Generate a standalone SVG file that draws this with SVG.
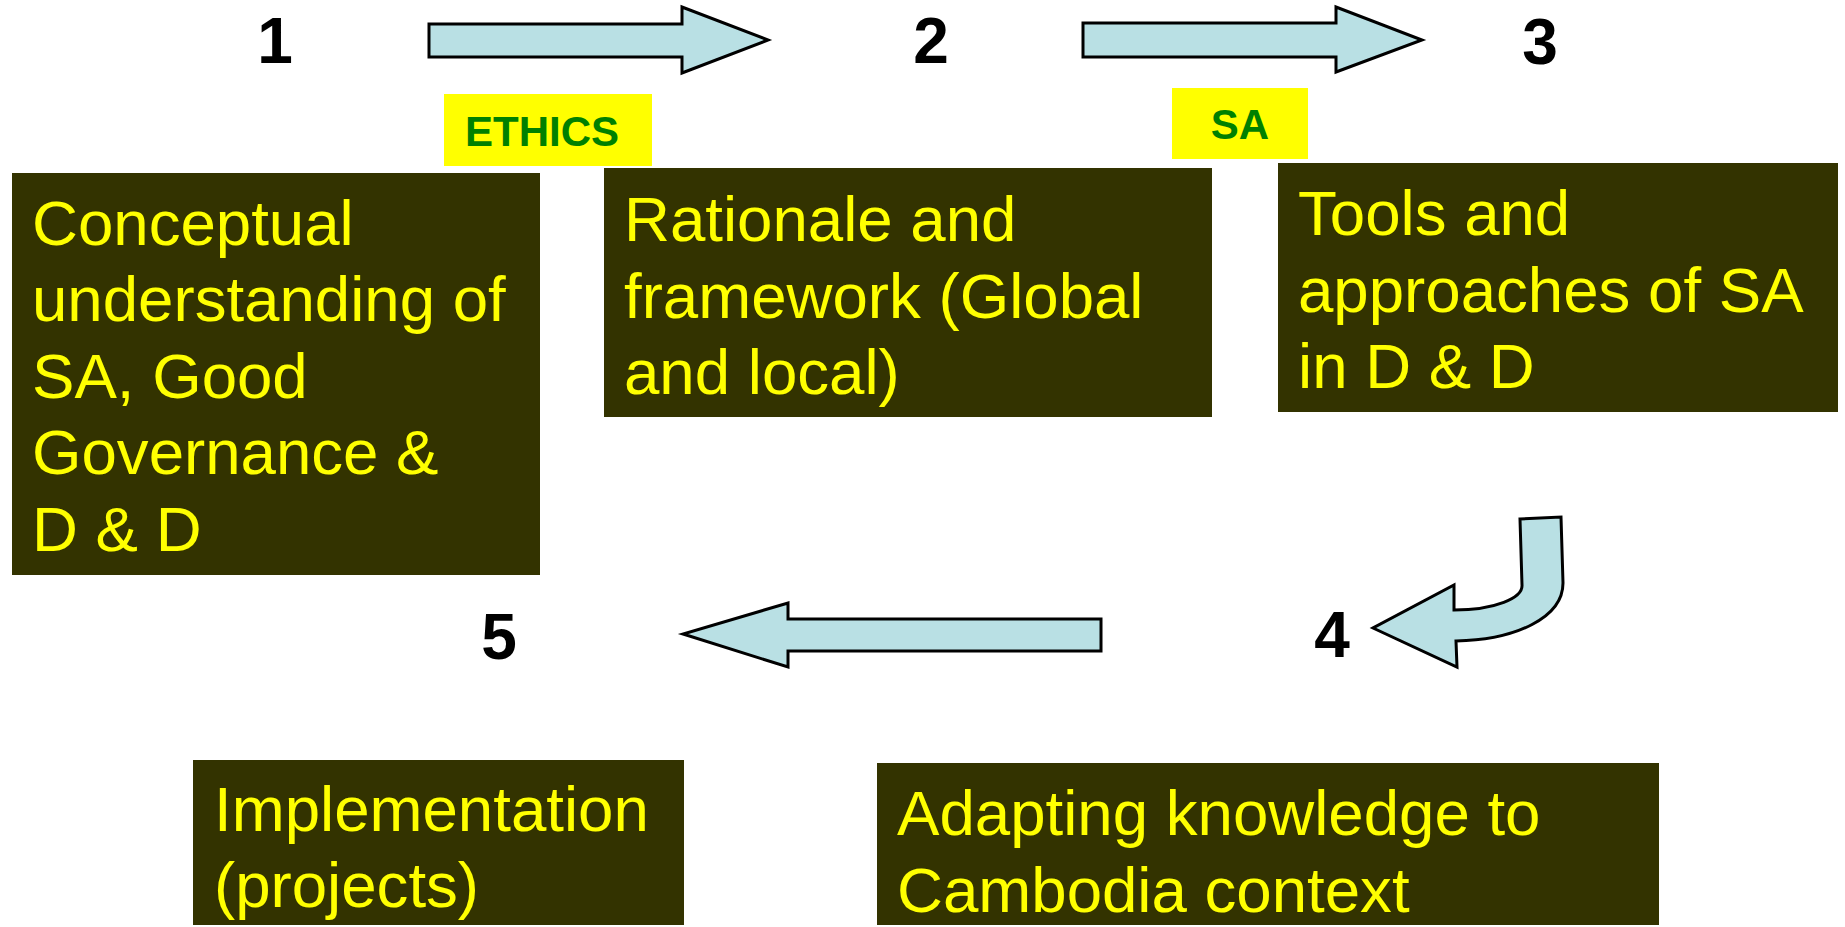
<svg xmlns="http://www.w3.org/2000/svg" width="1845" height="927" viewBox="0 0 1845 927">
<style>
.box{fill:#333300}
.bt{font-family:"Liberation Sans",Arial,sans-serif;font-size:63.6px;fill:#FFFF00}
.num{font-family:"Liberation Sans",Arial,sans-serif;font-size:64px;font-weight:bold;fill:#000;text-anchor:middle}
.tag{fill:#FFFF00}
.tt{font-family:"Liberation Sans",Arial,sans-serif;font-size:42px;font-weight:bold;fill:#008000}
.arr{fill:#B9E0E4;stroke:#000;stroke-width:3;stroke-linejoin:miter}
</style>
<rect width="1845" height="927" fill="#fff"/>
<g id="connectors">
<path class="arr" d="M429,24 L682,24 L682,7 L768,40 L682,73 L682,57 L429,57 Z"/>
<path class="arr" d="M1083,23 L1336,23 L1336,7 L1422,40 L1336,72 L1336,57 L1083,57 Z"/>
<path class="arr" d="M1520,519 L1561,517 L1563,583 C1563,618 1515,640 1456,641 L1457,667 L1373,628 L1454,585 L1454,610 C1495,610 1523,598 1522,585 Z"/>
<path class="arr" d="M1101,619 L788,619 L788,603 L683,634 L788,667 L788,651 L1101,651 Z"/>
</g>
<g id="label-ethics">
<rect class="tag" x="444" y="94" width="208" height="72"/>
<text class="tt" x="465" y="146">ETHICS</text>
</g>
<g id="label-sa">
<rect class="tag" x="1172" y="88" width="136" height="71"/>
<text class="tt" x="1240" y="139" text-anchor="middle">SA</text>
</g>
<g id="n1">
<text class="num" x="275" y="63">1</text>
<rect class="box" x="12" y="173" width="528" height="402"/>
<text class="bt"><tspan x="32" y="245">Conceptual</tspan><tspan x="32" y="321">understanding of</tspan><tspan x="32" y="398">SA, Good</tspan><tspan x="32" y="474">Governance &amp;</tspan><tspan x="32" y="551">D &amp; D</tspan></text>
</g>
<g id="n2">
<text class="num" x="931" y="63">2</text>
<rect class="box" x="604" y="168" width="608" height="249"/>
<text class="bt"><tspan x="624" y="241">Rationale and</tspan><tspan x="624" y="318">framework (Global</tspan><tspan x="624" y="394">and local)</tspan></text>
</g>
<g id="n3">
<text class="num" x="1540" y="64">3</text>
<rect class="box" x="1278" y="163" width="560" height="249"/>
<text class="bt"><tspan x="1298" y="235">Tools and</tspan><tspan x="1298" y="312">approaches of SA</tspan><tspan x="1298" y="388">in D &amp; D</tspan></text>
</g>
<g id="n4">
<text class="num" x="1332" y="657">4</text>
<rect class="box" x="877" y="763" width="782" height="162"/>
<text class="bt"><tspan x="897" y="835">Adapting knowledge to</tspan><tspan x="897" y="912">Cambodia context</tspan></text>
</g>
<g id="n5">
<text class="num" x="499" y="659">5</text>
<rect class="box" x="193" y="760" width="491" height="165"/>
<text class="bt"><tspan x="214" y="831">Implementation</tspan><tspan x="214" y="907">(projects)</tspan></text>
</g>
</svg>
